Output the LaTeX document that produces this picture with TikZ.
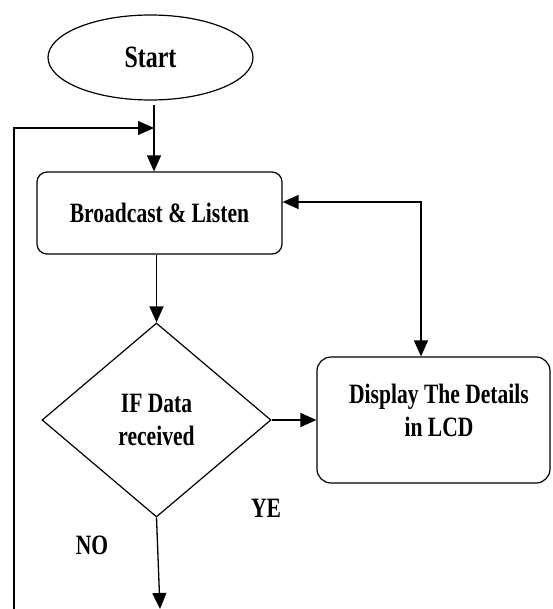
\documentclass[tikz,border=0pt]{standalone}
\usepackage{fontspec}
\setmainfont{Liberation Serif}
\newfontfamily\flowfont[FakeStretch=0.77]{Liberation Serif}
\usetikzlibrary{shapes.geometric,arrows.meta}
\begin{document}
\begin{tikzpicture}[x=1pt,y=-1pt,
    every node/.style={font=\flowfont\fontsize{28}{33}\selectfont\bfseries,align=center},
    flow/.style={draw=black,line width=1.3pt,-{Triangle[length=16pt,width=14pt]}}]
  \useasboundingbox (0,0) rectangle (552,609);
  \begin{scope}[every node/.append style={draw,line width=1.2pt,inner sep=0pt}]
    \node[ellipse,minimum width=205,minimum height=85,font=\flowfont\fontsize{31}{33}\selectfont\bfseries] (start) at (150.5,57.5) {Start};
    \node[rectangle,rounded corners=10,minimum width=245,minimum height=82] (bcast) at (159.5,213) {Broadcast \& Listen};
    \node[diamond,minimum width=229,minimum height=194] (dec) at (156.5,420) {IF Data\\received};
    \node[rectangle,rounded corners=14,minimum width=233,minimum height=126] (disp) at (433.5,420) {};
  \end{scope}
  \node (disptxt) at (439,410) {Display The Details\\in LCD};
  \node (ye) at (266,508) {YE};
  \node (no) at (92,545) {NO};
  \coordinate (s0) at (154,105);
  \coordinate (top) at (154,128);
  \coordinate (loop) at (14,609);
  \coordinate (turn) at (421,202);
  \coordinate (out) at (160,609);
  \begin{scope}[every path/.append style={flow}]
    \draw (s0) -- (s0 |- bcast.north);
    \draw (loop) |- (top);
    \draw (bcast.south -| dec.north) -- (dec.north);
    \draw (dec.east) -- (dec.east -| disp.west);
    \draw[{Triangle[length=16pt,width=14pt]}-{Triangle[length=16pt,width=14pt]}] (bcast.east |- turn) -- (turn) -- (turn |- disp.north);
    \draw (dec.south) -- (out);
  \end{scope}
\end{tikzpicture}
\end{document}
